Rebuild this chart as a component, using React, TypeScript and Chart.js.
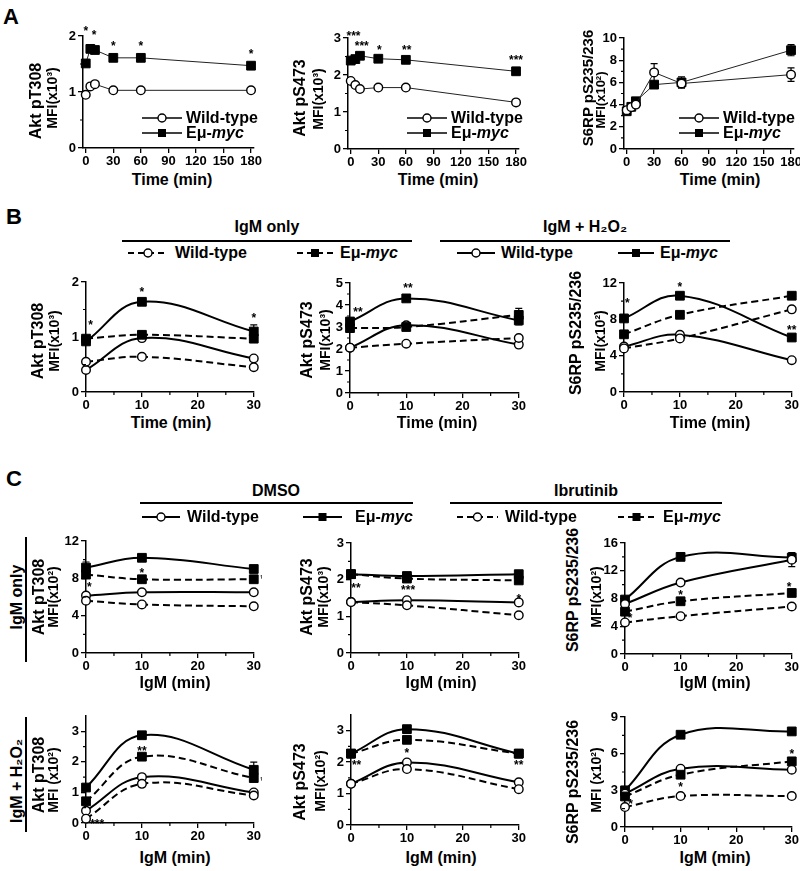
import React, { useEffect, useRef } from "react";
import { Chart, registerables } from "chart.js";
Chart.register(...registerables);

const FONT = "'Liberation Sans', Arial, Helvetica, sans-serif";
const PAD_L = 40, PAD_T = 16, PAD_R = 8, PAD_B = 22;

// ---------- Panel A data ----------
const timesA = [0, 5, 10, 30, 60, 180];
const a1WT = [0.95, 1.10, 1.14, 1.03, 1.03, 1.03];
const a1Myc = [1.51, 1.77, 1.75, 1.61, 1.61, 1.47];
const a2WT = [1.84, 1.73, 1.62, 1.66, 1.66, 1.26];
const a2Myc = [2.39, 2.43, 2.52, 2.44, 2.41, 2.10];
const a3WT = [3.5, 3.77, 4.0, 6.9, 5.9, 6.7];
const a3WTErr = [0.15, 0.15, 0.2, 0.8, 0.4, 0.6];
const a3Myc = [3.4, 3.8, 4.3, 5.8, 6.0, 8.9];
const a3MycErr = [0.15, 0.15, 0.2, 0.2, 0.5, 0.5];

// ---------- Panel B / C time points ----------
const timesBC = [0, 10, 30];

// Panel B: dashed = IgM only, solid = IgM + H2O2
const b1WTonly = [0.55, 0.64, 0.45];
const b1MycOnly = [0.97, 1.04, 0.97];
const b1WTH2O2 = [0.40, 0.98, 0.61];
const b1MycH2O2 = [0.92, 1.64, 1.10];
const b1MycH2O2Err = [0.05, 0, 0.12];

const b2WTonly = [2.06, 2.24, 2.5];
const b2MycOnly = [2.95, 3.0, 3.55];
const b2MycOnlyErr = [0, 0, 0.3];
const b2WTH2O2 = [2.06, 3.08, 2.2];
const b2MycH2O2 = [3.25, 4.3, 3.3];
const b2MycH2O2Err = [0.15, 0, 0.2];

const b3WTonly = [4.8, 5.9, 9.1];
const b3MycOnly = [6.35, 8.5, 10.6];
const b3WTH2O2 = [5.0, 6.3, 3.5];
const b3MycH2O2 = [8.1, 10.6, 6.0];

// Panel C: solid = DMSO, dashed = Ibrutinib
const c1WTdmso = [6.15, 6.5, 6.5];
const c1MycDmso = [9.15, 10.2, 9.0];
const c1MycDmsoErr = [0.6, 0, 0];
const c1WTibr = [5.6, 5.2, 5.0];
const c1MycIbr = [8.4, 7.9, 7.9];

const c2WTdmso = [1.39, 1.44, 1.38];
const c2MycDmso = [2.15, 2.1, 2.15];
const c2WTibr = [1.39, 1.30, 1.03];
const c2MycIbr = [2.15, 2.03, 1.98];

const c3WTdmso = [7.2, 10.3, 13.6];
const c3WTdmsoErr = [0, 0, 1.0];
const c3MycDmso = [7.85, 14.0, 13.9];
const c3MycDmsoErr = [0, 0, 0.6];
const c3WTibr = [4.55, 5.45, 6.85];
const c3MycIbr = [6.1, 7.6, 8.8];

const c4WTdmso = [0.40, 1.50, 1.0];
const c4MycDmso = [1.16, 2.87, 1.74];
const c4MycDmsoErr = [0, 0.08, 0.25];
const c4WTibr = [0.14, 1.28, 0.9];
const c4MycIbr = [0.71, 2.17, 1.47];

const c5WTdmso = [1.31, 1.99, 1.36];
const c5MycDmso = [2.27, 3.05, 2.27];
const c5WTibr = [1.31, 1.78, 1.14];
const c5MycIbr = [2.27, 2.71, 2.27];

const c6WTdmso = [2.73, 4.77, 4.69];
const c6MycDmso = [3.0, 7.55, 7.82];
const c6WTibr = [1.63, 2.53, 2.53];
const c6MycIbr = [2.5, 4.28, 5.37];

// ---------- tick labels ----------
const xTicksA = [0, 30, 60, 90, 120, 150, 180];
const xTicksBC = [0, 10, 20, 30];
const xMinorBC = [5, 15, 25];

// ---------- significance marks (x, y in data units) ----------
const a1Stars = [[0, 2.14, "*"], [9, 2.07, "*"], [30, 1.87, "*"], [60, 1.87, "*"], [180, 1.74, "*"]];
const a2Stars = [[3, 3.13, "***"], [12, 2.86, "***"], [31, 2.77, "*"], [61, 2.77, "**"], [180, 2.48, "***"]];
const b1Stars = [[0.8, 1.28, "*"], [10, 1.88, "*"], [30, 1.4, "*"]];
const b2Stars = [[1.4, 3.84, "**"], [10.3, 4.9, "**"]];
const b3Stars = [[0.6, 10.1, "*"], [10, 11.9, "*"], [30, 7.2, "**"]];
const c1Stars = [[0.6, 7.4, "*"], [10, 8.9, "*"], [31.6, 8.2, "*"]];
const c2Stars = [[0.9, 1.85, "**"], [10.2, 1.8, "***"], [30, 1.55, "*"]];
const c3Stars = [[0.9, 5.6, "*"], [10, 8.95, "*"], [29.5, 10.1, "*"]];
const c4Stars = [[2.0, 0.05, "***"], [10, 2.45, "**"], [31.6, 1.47, "*"]];
const c5Stars = [[1, 1.99, "**"], [10, 2.39, "*"], [30, 1.99, "**"]];
const c6Stars = [[1, 2.1, "*"], [10, 3.55, "*"], [30, 6.2, "*"]];

type S = { ys: number[]; filled: boolean; dashed: boolean; err?: number[] };
type Spec = {
  L: number; R: number; T: number; B: number;
  xMin: number; xMax: number; xs: number[]; xTicks: number[]; xMinor: number[];
  yMax: number; yTicks: number[]; yMinor: number[];
  thin: boolean; series: S[]; stars: any[];
};

const range = (a: number, b: number, s: number) => { const r: number[] = []; for (let v = a; v <= b + 1e-9; v += s) r.push(+v.toFixed(3)); return r; };

const specs: Spec[] = [
  { L: 83, R: 255, T: 36, B: 148, xMin: -3, xMax: 183, xs: timesA, xTicks: xTicksA, xMinor: [], yMax: 2, yTicks: [0, 1, 2], yMinor: [0.5, 1.5], thin: true,
    series: [{ ys: a1WT, filled: false, dashed: false }, { ys: a1Myc, filled: true, dashed: false }], stars: a1Stars },
  { L: 348, R: 520, T: 38, B: 149, xMin: -3, xMax: 183, xs: timesA, xTicks: xTicksA, xMinor: [], yMax: 3, yTicks: [0, 1, 2, 3], yMinor: [0.5, 1.5, 2.5], thin: true,
    series: [{ ys: a2WT, filled: false, dashed: false }, { ys: a2Myc, filled: true, dashed: false }], stars: a2Stars },
  { L: 624, R: 795, T: 38, B: 149, xMin: -3, xMax: 183, xs: timesA, xTicks: xTicksA, xMinor: [], yMax: 10, yTicks: range(0, 10, 2), yMinor: [1, 3, 5, 7, 9], thin: true,
    series: [{ ys: a3WT, filled: false, dashed: false, err: a3WTErr }, { ys: a3Myc, filled: true, dashed: false, err: a3MycErr }], stars: [] },

  { L: 86, R: 254, T: 282, B: 392, xMin: 0, xMax: 30, xs: timesBC, xTicks: xTicksBC, xMinor: xMinorBC, yMax: 2, yTicks: [0, 1, 2], yMinor: [0.5, 1.5], thin: false,
    series: [{ ys: b1WTonly, filled: false, dashed: true }, { ys: b1MycOnly, filled: true, dashed: true }, { ys: b1WTH2O2, filled: false, dashed: false }, { ys: b1MycH2O2, filled: true, dashed: false, err: b1MycH2O2Err }], stars: b1Stars },
  { L: 350, R: 519, T: 283, B: 393, xMin: 0, xMax: 30, xs: timesBC, xTicks: xTicksBC, xMinor: xMinorBC, yMax: 5, yTicks: range(0, 5, 1), yMinor: [0.5, 1.5, 2.5, 3.5, 4.5], thin: false,
    series: [{ ys: b2WTonly, filled: false, dashed: true }, { ys: b2MycOnly, filled: true, dashed: true, err: b2MycOnlyErr }, { ys: b2WTH2O2, filled: false, dashed: false }, { ys: b2MycH2O2, filled: true, dashed: false, err: b2MycH2O2Err }], stars: b2Stars },
  { L: 624, R: 792, T: 283, B: 392, xMin: 0, xMax: 30, xs: timesBC, xTicks: xTicksBC, xMinor: xMinorBC, yMax: 12, yTicks: [0, 4, 8, 12], yMinor: [2, 6, 10], thin: false,
    series: [{ ys: b3WTonly, filled: false, dashed: true }, { ys: b3MycOnly, filled: true, dashed: true }, { ys: b3WTH2O2, filled: false, dashed: false }, { ys: b3MycH2O2, filled: true, dashed: false }], stars: b3Stars },

  { L: 86, R: 254, T: 541, B: 653, xMin: 0, xMax: 30, xs: timesBC, xTicks: xTicksBC, xMinor: xMinorBC, yMax: 12, yTicks: [0, 4, 8, 12], yMinor: [2, 6, 10], thin: false,
    series: [{ ys: c1WTibr, filled: false, dashed: true }, { ys: c1MycIbr, filled: true, dashed: true }, { ys: c1WTdmso, filled: false, dashed: false }, { ys: c1MycDmso, filled: true, dashed: false, err: c1MycDmsoErr }], stars: c1Stars },
  { L: 351, R: 519, T: 543, B: 653, xMin: 0, xMax: 30, xs: timesBC, xTicks: xTicksBC, xMinor: xMinorBC, yMax: 3, yTicks: [0, 1, 2, 3], yMinor: [0.5, 1.5, 2.5], thin: false,
    series: [{ ys: c2WTibr, filled: false, dashed: true }, { ys: c2MycIbr, filled: true, dashed: true }, { ys: c2WTdmso, filled: false, dashed: false }, { ys: c2MycDmso, filled: true, dashed: false }], stars: c2Stars },
  { L: 625, R: 792, T: 543, B: 654, xMin: 0, xMax: 30, xs: timesBC, xTicks: xTicksBC, xMinor: xMinorBC, yMax: 16, yTicks: [0, 4, 8, 12, 16], yMinor: [2, 6, 10, 14], thin: false,
    series: [{ ys: c3WTibr, filled: false, dashed: true }, { ys: c3MycIbr, filled: true, dashed: true }, { ys: c3WTdmso, filled: false, dashed: false, err: c3WTdmsoErr }, { ys: c3MycDmso, filled: true, dashed: false, err: c3MycDmsoErr }], stars: c3Stars },

  { L: 86, R: 254, T: 716, B: 823, xMin: 0, xMax: 30, xs: timesBC, xTicks: xTicksBC, xMinor: xMinorBC, yMax: 3.5, yTicks: [0, 1, 2, 3], yMinor: [0.5, 1.5, 2.5], thin: false,
    series: [{ ys: c4WTibr, filled: false, dashed: true }, { ys: c4MycIbr, filled: true, dashed: true }, { ys: c4WTdmso, filled: false, dashed: false }, { ys: c4MycDmso, filled: true, dashed: false, err: c4MycDmsoErr }], stars: c4Stars },
  { L: 351, R: 519, T: 715, B: 825, xMin: 0, xMax: 30, xs: timesBC, xTicks: xTicksBC, xMinor: xMinorBC, yMax: 3.5, yTicks: [0, 1, 2, 3], yMinor: [0.5, 1.5, 2.5], thin: false,
    series: [{ ys: c5WTibr, filled: false, dashed: true }, { ys: c5MycIbr, filled: true, dashed: true }, { ys: c5WTdmso, filled: false, dashed: false }, { ys: c5MycDmso, filled: true, dashed: false }], stars: c5Stars },
  { L: 625, R: 792, T: 717, B: 827, xMin: 0, xMax: 30, xs: timesBC, xTicks: xTicksBC, xMinor: xMinorBC, yMax: 9, yTicks: [0, 3, 6, 9], yMinor: [1.5, 4.5, 7.5], thin: false,
    series: [{ ys: c6WTibr, filled: false, dashed: true }, { ys: c6MycIbr, filled: true, dashed: true }, { ys: c6WTdmso, filled: false, dashed: false }, { ys: c6MycDmso, filled: true, dashed: false }], stars: c6Stars },
];

function makePlugin(spec: Spec) {
  return {
    id: "figExtras",
    beforeDatasetsDraw(chart: any) {
      const ctx = chart.ctx; const xs = chart.scales.x, ys = chart.scales.y;
      ctx.save(); ctx.strokeStyle = "#000"; ctx.lineWidth = 1.2;
      spec.series.forEach((s) => {
        if (!s.err) return;
        s.ys.forEach((v, j) => {
          const e = s.err![j]; if (!e) return;
          const px = xs.getPixelForValue(spec.xs[j]);
          const top = ys.getPixelForValue(v + e), bot = ys.getPixelForValue(v - e);
          ctx.beginPath();
          ctx.moveTo(px, top); ctx.lineTo(px, bot);
          ctx.moveTo(px - 3.5, top); ctx.lineTo(px + 3.5, top);
          ctx.moveTo(px - 3.5, bot); ctx.lineTo(px + 3.5, bot);
          ctx.stroke();
        });
      });
      ctx.restore();
    },
    afterDraw(chart: any) {
      const ctx = chart.ctx; const xs = chart.scales.x, ys = chart.scales.y;
      const a = chart.chartArea;
      ctx.save(); ctx.strokeStyle = "#000"; ctx.lineWidth = 1.2;
      ctx.beginPath();
      spec.xMinor.forEach((v) => { const p = xs.getPixelForValue(v); ctx.moveTo(p, a.bottom); ctx.lineTo(p, a.bottom + 3); });
      spec.yMinor.forEach((v) => { const p = ys.getPixelForValue(v); ctx.moveTo(a.left, p); ctx.lineTo(a.left - 3, p); });
      ctx.stroke();
      ctx.fillStyle = "#000"; ctx.font = `bold 12px ${FONT}`; ctx.textAlign = "center"; ctx.textBaseline = "alphabetic";
      spec.stars.forEach((st: any) => {
        const px = xs.getPixelForValue(st[0]); const py = ys.getPixelForValue(st[1]);
        ctx.fillText(st[2], px, py + 7);
      });
      ctx.restore();
    },
  };
}

function Plot({ spec }: { spec: Spec }) {
  const ref = useRef<HTMLCanvasElement>(null);
  const w = spec.R - spec.L + PAD_L + PAD_R;
  const h = spec.B - spec.T + PAD_T + PAD_B;
  useEffect(() => {
    const lw = spec.thin ? 1 : 2;
    const datasets = spec.series.map((s) => ({
      data: spec.xs.map((x, i) => ({ x, y: s.ys[i] })),
      borderColor: spec.thin ? "#222" : "#000",
      borderWidth: lw,
      borderDash: s.dashed ? [7, 4] : [],
      tension: spec.thin ? 0 : 0.4,
      pointStyle: s.filled ? "rect" : "circle",
      pointRadius: s.filled ? 6.2 : 4.3,
      pointBorderWidth: s.filled ? 1 : 1.4,
      pointBackgroundColor: s.filled ? "#000" : "#fff",
      pointBorderColor: "#000",
      clip: false as any,
      fill: false,
    }));
    const tickFont = { family: FONT, size: 13, weight: "bold" as any };
    const axisCommon = {
      grid: { display: true, drawOnChartArea: false, drawTicks: true, tickLength: 5, color: "#000", lineWidth: 1.3 },
      border: { display: true, color: "#000", width: 1.5 },
    };
    const chart = new Chart(ref.current!, {
      type: "line",
      data: { datasets },
      options: {
        responsive: false,
        animation: false,
        devicePixelRatio: 1,
        layout: { padding: { top: PAD_T, right: PAD_R, left: 0, bottom: 0 } },
        plugins: { legend: { display: false }, tooltip: { enabled: false } },
        scales: {
          x: {
            type: "linear", min: spec.xMin, max: spec.xMax, ...axisCommon,
            afterBuildTicks: (ax: any) => { ax.ticks = spec.xTicks.map((v) => ({ value: v })); },
            afterFit: (s: any) => { s.height = PAD_B; },
            ticks: { font: tickFont, color: "#000", padding: 1, maxRotation: 0, autoSkip: false, callback: (v: any) => String(v) },
          },
          y: {
            type: "linear", min: 0, max: spec.yMax, ...axisCommon,
            afterBuildTicks: (ax: any) => { ax.ticks = spec.yTicks.map((v) => ({ value: v })); },
            afterFit: (s: any) => { s.width = PAD_L; },
            ticks: { font: tickFont, color: "#000", padding: 2, autoSkip: false, callback: (v: any) => String(v) },
          },
        },
      } as any,
      plugins: [makePlugin(spec) as any],
    });
    return () => chart.destroy();
  }, []);
  return (
    <canvas ref={ref} width={w} height={h}
      style={{ position: "absolute", left: spec.L - PAD_L, top: spec.T - PAD_T, width: w, height: h }} />
  );
}

function CText({ x, y, size, children, italic }: any) {
  return (
    <div style={{ position: "absolute", left: x, top: y, transform: "translate(-50%,-50%)", font: `bold ${size}px ${FONT}`, whiteSpace: "nowrap", lineHeight: 1, fontStyle: italic ? "italic" : "normal" }}>{children}</div>
  );
}
function VText({ x, y, size, children }: any) {
  return (
    <div style={{ position: "absolute", left: x, top: y, transform: "translate(-50%,-50%) rotate(-90deg)", font: `bold ${size}px ${FONT}`, whiteSpace: "nowrap", lineHeight: 1 }}>{children}</div>
  );
}
function HLine({ x1, x2, y }: any) {
  return <div style={{ position: "absolute", left: x1, top: y - 0.75, width: x2 - x1, height: 1.5, background: "#000" }} />;
}
function VLine({ x, y1, y2 }: any) {
  return <div style={{ position: "absolute", left: x - 0.75, top: y1, width: 1.5, height: y2 - y1, background: "#000" }} />;
}
const Myc = () => <span>Eμ-<i>myc</i></span>;
function Leg({ x, y, w, gap, dashed, filled, lw, children }: any) {
  return (
    <div style={{ position: "absolute", left: x, top: y - 10, height: 20, display: "flex", alignItems: "center", font: `bold 16px ${FONT}`, whiteSpace: "nowrap" }}>
      <svg width={w} height={14} style={{ marginRight: gap }}>
        <line x1={0} y1={7} x2={w} y2={7} stroke="#000" strokeWidth={lw} strokeDasharray={dashed ? "6 4" : undefined} />
        {filled
          ? <rect x={w / 2 - 4} y={3} width={8} height={8} fill="#000" />
          : <circle cx={w / 2} cy={7} r={4} fill="#fff" stroke="#000" strokeWidth={1.4} />}
      </svg>
      {children}
    </div>
  );
}

export default function App() {
  return (
    <div style={{ position: "absolute", left: 0, top: 0, width: 800, height: 871, background: "#fff", overflow: "hidden", color: "#000", fontFamily: FONT }}>
      {specs.map((s, i) => <Plot key={i} spec={s} />)}

      {/* panel letters */}
      <div style={{ position: "absolute", left: 3, top: 4, font: `bold 22px ${FONT}` }}>A</div>
      <div style={{ position: "absolute", left: 6, top: 204, font: `bold 22px ${FONT}` }}>B</div>
      <div style={{ position: "absolute", left: 6, top: 466, font: `bold 22px ${FONT}` }}>C</div>

      {/* Panel A legends */}
      <Leg x={142} y={118} w={40} gap={4} lw={1.5}>Wild-type</Leg>
      <Leg x={142} y={133} w={40} gap={4} lw={1.5} filled><Myc /></Leg>
      <Leg x={407} y={118} w={40} gap={4} lw={1.5}>Wild-type</Leg>
      <Leg x={407} y={133} w={40} gap={4} lw={1.5} filled><Myc /></Leg>
      <Leg x={679} y={118} w={40} gap={4} lw={1.5}>Wild-type</Leg>
      <Leg x={679} y={133} w={40} gap={4} lw={1.5} filled><Myc /></Leg>

      {/* Panel A axis titles */}
      <CText x={172} y={180} size={16}>Time (min)</CText>
      <CText x={438} y={180} size={16}>Time (min)</CText>
      <CText x={720} y={180} size={16}>Time (min)</CText>
      <VText x={36} y={101} size={16}>Akt pT308</VText>
      <VText x={52} y={98} size={14}>MFI(x10³)</VText>
      <VText x={300} y={98} size={16}>Akt pS473</VText>
      <VText x={318} y={99} size={14}>MFI(x10³)</VText>
      <VText x={587} y={88} size={15}>S6RP pS235/236</VText>
      <VText x={600} y={100} size={13}>MFI(x10²)</VText>

      {/* Panel B headers */}
      <CText x={267} y={227} size={16}>IgM only</CText>
      <CText x={585} y={227} size={16}>IgM + H₂O₂</CText>
      <HLine x1={122} x2={412} y={241} />
      <HLine x1={440} x2={730} y={241} />
      <Leg x={128} y={253} w={40} gap={7} lw={2} dashed>Wild-type</Leg>
      <Leg x={297} y={253} w={36} gap={7} lw={2} dashed filled><Myc /></Leg>
      <Leg x={457} y={253} w={38} gap={6} lw={2}>Wild-type</Leg>
      <Leg x={618} y={253} w={36} gap={6} lw={2} filled><Myc /></Leg>

      {/* Panel B axis titles */}
      <CText x={171} y={423} size={16}>Time (min)</CText>
      <CText x={437} y={423} size={16}>Time (min)</CText>
      <CText x={710} y={423} size={16}>Time (min)</CText>
      <VText x={38} y={341} size={16}>Akt pT308</VText>
      <VText x={54} y={341} size={14}>MFI(x10³)</VText>
      <VText x={307} y={340} size={16}>Akt pS473</VText>
      <VText x={325} y={340} size={14}>MFI(x10³)</VText>
      <VText x={576} y={333} size={16}>S6RP pS235/236</VText>
      <VText x={600} y={341} size={14}>MFI(x10²)</VText>

      {/* Panel C headers */}
      <CText x={276} y={491} size={16}>DMSO</CText>
      <CText x={586} y={491} size={16}>Ibrutinib</CText>
      <HLine x1={140} x2={413} y={503} />
      <HLine x1={450} x2={722} y={503} />
      <Leg x={142} y={517} w={38} gap={7} lw={2}>Wild-type</Leg>
      <Leg x={303} y={517} w={39} gap={13} lw={2} filled><Myc /></Leg>
      <Leg x={457} y={517} w={41} gap={7} lw={2} dashed>Wild-type</Leg>
      <Leg x={618} y={517} w={37} gap={8} lw={2} dashed filled><Myc /></Leg>

      {/* Panel C row labels */}
      <VText x={17} y={597} size={16}>IgM only</VText>
      <VLine x={26} y1={537} y2={662} />
      <VText x={17} y={781} size={16}>IgM + H₂O₂</VText>
      <VLine x={26} y1={717} y2={832} />

      {/* Panel C axis titles */}
      <CText x={175} y={683} size={16}>IgM (min)</CText>
      <CText x={441} y={683} size={16}>IgM (min)</CText>
      <CText x={715} y={683} size={16}>IgM (min)</CText>
      <CText x={175} y={858} size={16}>IgM (min)</CText>
      <CText x={441} y={858} size={16}>IgM (min)</CText>
      <CText x={715} y={858} size={16}>IgM (min)</CText>

      <VText x={39} y={597} size={16}>Akt pT308</VText>
      <VText x={53} y={597} size={14}>MFI(x10²)</VText>
      <VText x={307} y={597} size={16}>Akt pS473</VText>
      <VText x={323} y={597} size={14}>MFI(x10³)</VText>
      <VText x={573} y={590} size={16}>S6RP pS235/236</VText>
      <VText x={596} y={597} size={14}>MFI(x10²)</VText>

      <VText x={39} y={775} size={16}>Akt pT308</VText>
      <VText x={53} y={780} size={14}>MFI (x10²)</VText>
      <VText x={300} y={782} size={16}>Akt pS473</VText>
      <VText x={320} y={781} size={14}>MFI(x10²)</VText>
      <VText x={573} y={782} size={16}>S6RP pS235/236</VText>
      <VText x={596} y={780} size={14}>MFI (x10²)</VText>
    </div>
  );
}
